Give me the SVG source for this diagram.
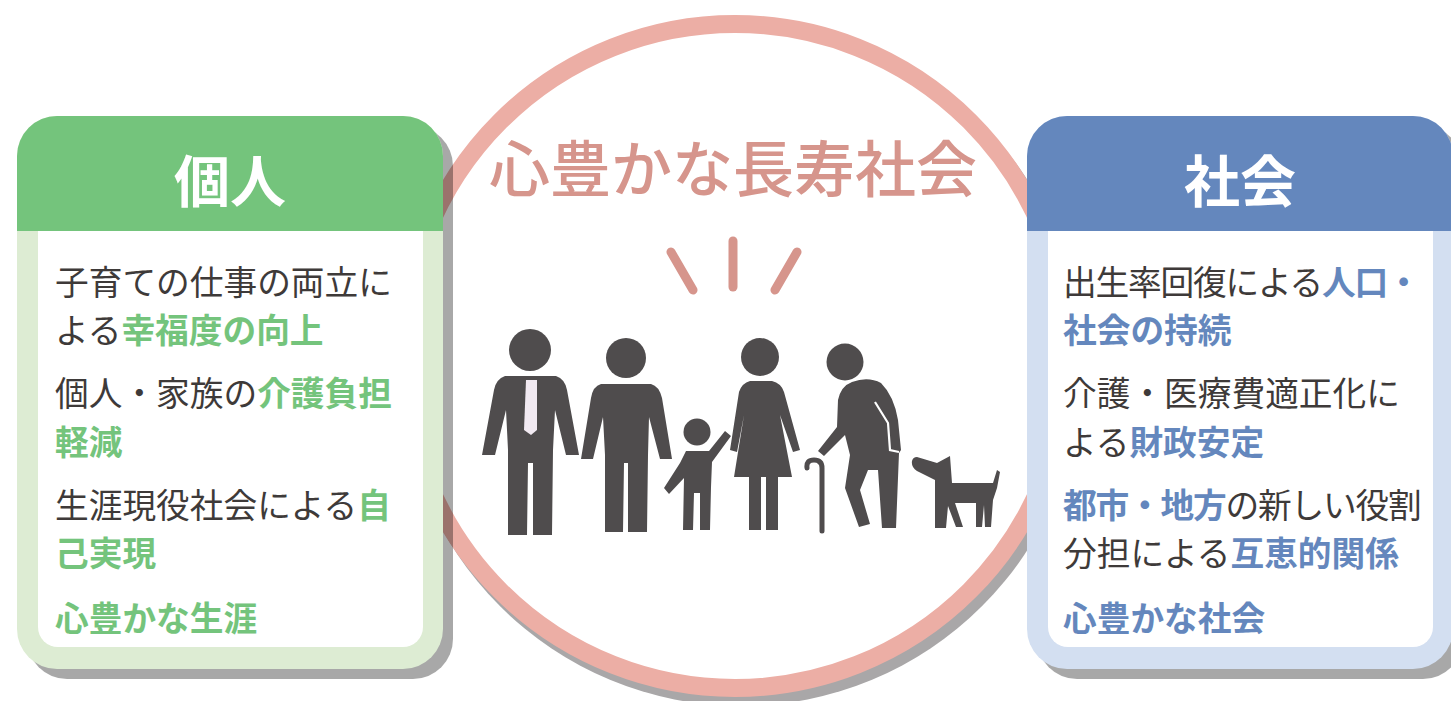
<svg xmlns="http://www.w3.org/2000/svg" width="1451" height="701" viewBox="0 0 1451 701">
  <style>
    .jp { font-family: "Noto Sans CJK JP", "Noto Sans CJK SC", sans-serif; }
    .body { font-size: 33.7px; fill: #3e3a39; }
    .tight { letter-spacing: -1.2px; }
    .hl { font-weight: 700; }
    .g { fill: #74c47c; }
    .b { fill: #6487bd; }
    .head { font-size: 56px; font-weight: 700; fill: #ffffff; text-anchor: middle; }
    .shadow { fill: #000000; fill-opacity: 0.34; }
    .fig { fill: #4f4c4d; }
    .ray { stroke: #d6958c; stroke-width: 9; stroke-linecap: round; fill: none; }
  </style>

  <!-- central ring with title and family pictogram -->
  <g id="center">
    <circle cx="741" cy="365" r="341" fill="#a9a7a8"/>
    <circle cx="735" cy="356" r="332" fill="#ffffff" stroke="#ecaea5" stroke-width="18"/>
    <text class="jp" x="733" y="192" font-size="61" font-weight="500" fill="#d6958c" text-anchor="middle">心豊かな長寿社会</text>
    <g id="rays">
      <line class="ray" x1="671" y1="252" x2="693" y2="290"/>
      <line class="ray" x1="733" y1="241" x2="733" y2="287"/>
      <line class="ray" x1="797" y1="252" x2="775" y2="290"/>
    </g>
    <g id="family" class="fig">
      <!-- man with tie -->
      <circle cx="530" cy="350" r="21"/>
      <path d="M505,376 Q496,379 494,390 L482,455 L495,455 L506,410 L508,450 L508,535 L527,535 L528,463 L533,463 L533,535 L552,535 L553,450 L555,410 L566,455 L579,455 L567,390 Q565,379 556,376 Z"/>
      <path d="M526,380 L537,380 L537,430 L531,435 L524,430 Z" fill="#f2eaf2"/>
      <!-- man -->
      <circle cx="626" cy="358" r="20"/>
      <path d="M601,384 Q593,386 591,398 L581,459 L593,459 L603,417 L605,455 L605,532 L623,532 L624,463 L628,463 L628,532 L647,532 L648,455 L649,417 L660,459 L672,459 L662,398 Q659,386 651,384 Z"/>
      <!-- child -->
      <circle cx="697" cy="432" r="13.5"/>
      <path d="M686,451 L709,451 L725,431 L731,436 L712,462 L711,487 L710,530 L700,530 L700,493 L694,493 L693,530 L683,530 L684,478 L669,494 L664,488 L680,463 Z"/>
      <!-- woman -->
      <circle cx="760" cy="357" r="19"/>
      <path d="M750,381 L772,381 Q781,383 784,392 L800,450 L793,452 L780,415 L792,477 L778,477 L778,530 L766,530 L766,477 L761,477 L761,530 L749,530 L749,477 L734,477 L744,415 L737,452 L730,450 L739,392 Q742,383 750,381 Z"/>
      <!-- elderly man with cane -->
      <circle cx="845" cy="362" r="18.5"/>
      <path d="M852,382 Q868,376 881,383 Q894,396 898,420 L901,450 L899,453 L896,528 L882,528 L878,470 L868,470 L860,490 L870,524 L859,527 L845,488 L850,455 L845,435 L824,456 L818,451 L837,427 L838,400 Q841,386 852,382 Z"/>
      <path d="M875,402 L888,423 L890,450 L899,452" fill="none" stroke="#ffffff" stroke-width="2.2"/>
      <path d="M807,468 Q806,460 814,460 Q822,460 822,468 L822,531" fill="none" stroke="#4f4c4d" stroke-width="5" stroke-linecap="round"/>
      <!-- dog -->
      <path d="M917,457 L937,463 L950,456 L952,483 L993,483 L997,470 L1000,472 L997,488 L993,500 L991,527 L985,527 L984,505 L982,527 L976,527 L976,503 L955,503 L963,527 L956,527 L948,506 L946,528 L935,528 L935,480 L917,471 Q911,467 912,461 Q913,457 917,457 Z"/>
    </g>
  </g>

  <!-- individual panel -->
  <g id="panel-individual">
    <rect class="shadow" x="27" y="126" width="426" height="553" rx="40"/>
    <rect x="17" y="116" width="426" height="553" rx="40" fill="#ddecd3"/>
    <path d="M17,231 V156 A40,40 0 0 1 57,116 H403 A40,40 0 0 1 443,156 V231 Z" fill="#74c47c"/>
    <path d="M38,231 H423 V627 A20,20 0 0 1 403,647 H58 A20,20 0 0 1 38,627 Z" fill="#ffffff"/>
    <text class="jp head" x="230" y="202">個人</text>
    <text class="jp body" x="55" y="295">子育ての仕事の両立に</text>
    <text class="jp body" x="55" y="343">よる<tspan class="hl g">幸福度の向上</tspan></text>
    <text class="jp body" x="55" y="406">個人・家族の<tspan class="hl g">介護負担</tspan></text>
    <text class="jp body hl g" x="55" y="455">軽減</text>
    <text class="jp body" x="55" y="518">生涯現役社会による<tspan class="hl g">自</tspan></text>
    <text class="jp body hl g" x="55" y="566">己実現</text>
    <text class="jp body hl g" x="55" y="631">心豊かな生涯</text>
  </g>

  <!-- society panel -->
  <g id="panel-society">
    <rect class="shadow" x="1037" y="126" width="426" height="553" rx="40"/>
    <rect x="1027" y="116" width="426" height="553" rx="40" fill="#d3dff1"/>
    <path d="M1027,231 V156 A40,40 0 0 1 1067,116 H1413 A40,40 0 0 1 1453,156 V231 Z" fill="#6487bd"/>
    <path d="M1048,231 H1433 V627 A20,20 0 0 1 1413,647 H1068 A20,20 0 0 1 1048,627 Z" fill="#ffffff"/>
    <text class="jp head" x="1240" y="202">社会</text>
    <text class="jp body tight" x="1063" y="295">出生率回復による<tspan class="hl b">人口・</tspan></text>
    <text class="jp body hl b" x="1063" y="343">社会の持続</text>
    <text class="jp body" x="1063" y="406">介護・医療費適正化に</text>
    <text class="jp body" x="1063" y="455">よる<tspan class="hl b">財政安定</tspan></text>
    <text class="jp body tight" x="1063" y="518"><tspan class="hl b">都市・地方</tspan>の新しい役割</text>
    <text class="jp body" x="1063" y="566">分担による<tspan class="hl b">互恵的関係</tspan></text>
    <text class="jp body hl b" x="1063" y="631">心豊かな社会</text>
  </g>
</svg>
